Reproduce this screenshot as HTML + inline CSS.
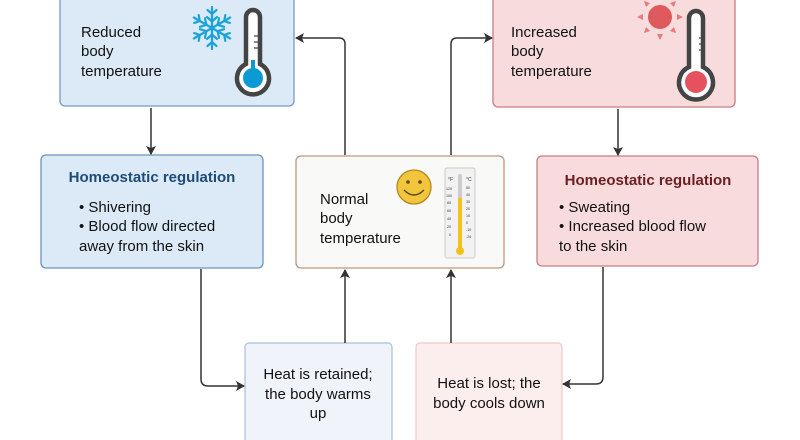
<!DOCTYPE html>
<html><head><meta charset="utf-8"><style>
body{margin:0;width:800px;height:440px;overflow:hidden;background:#fff;font-family:"Liberation Sans",sans-serif;}
svg{position:absolute;left:0;top:0}
text{font-family:"Liberation Sans",sans-serif;font-size:15px;fill:#111}
text.s{font-size:3.6px;fill:#333}
text.u{font-size:5px;fill:#333}
</style></head><body>
<svg width="800" height="440" viewBox="0 0 800 440">
<defs><marker id="a" markerWidth="10" markerHeight="10" refX="8" refY="5" orient="auto" markerUnits="userSpaceOnUse"><path d="M0,0 L9,5 L0,10 L2,5Z" fill="#333"/></marker></defs>
<rect x="60" y="-8" width="234" height="114" rx="5" fill="#dceaf8" stroke="#7499c3" stroke-width="1.3"/>
<rect x="493" y="-8" width="242" height="115" rx="5" fill="#f8dcdd" stroke="#c87c82" stroke-width="1.3"/>
<rect x="41" y="155" width="222" height="113" rx="5" fill="#dceaf8" stroke="#6b93c0" stroke-width="1.3"/>
<rect x="296" y="156" width="208" height="112" rx="5" fill="#f9f9f7" stroke="#c2957c" stroke-width="1.3"/>
<rect x="537" y="156" width="221" height="110" rx="5" fill="#f8dcdd" stroke="#c87c82" stroke-width="1.3"/>
<rect x="245" y="343" width="147" height="110" rx="4" fill="#f0f4fa" stroke="#a9bfdc" stroke-width="1.2"/>
<rect x="416" y="343" width="146" height="110" rx="4" fill="#fdeeee" stroke="#f0c8cc" stroke-width="1.2"/>
<g fill="none" stroke="#333" stroke-width="1.5">
<path d="M151 108 V154" marker-end="url(#a)"/>
<path d="M618 109 V155" marker-end="url(#a)"/>
<path d="M345 155 V44 Q345 38 339 38 H296" marker-end="url(#a)"/>
<path d="M451 155 V44 Q451 38 457 38 H492" marker-end="url(#a)"/>
<path d="M201 269 V379 Q201 386 208 386 H244" marker-end="url(#a)"/>
<path d="M603 267 V377 Q603 384 596 384 H563" marker-end="url(#a)"/>
<path d="M345 343 V270" marker-end="url(#a)"/>
<path d="M451 343 V270" marker-end="url(#a)"/>
</g>
<text x="81" y="37">Reduced</text><text x="81" y="56">body</text><text x="81" y="76">temperature</text>
<text x="511" y="37">Increased</text><text x="511" y="56">body</text><text x="511" y="76">temperature</text>
<text x="152" y="182" text-anchor="middle" style="fill:#1d4c78;font-weight:bold">Homeostatic regulation</text>
<text x="79" y="212">• Shivering</text><text x="79" y="231">• Blood flow  directed</text><text x="79" y="251">away from the skin</text>
<text x="648" y="185" text-anchor="middle" style="fill:#6b1f22;font-weight:bold">Homeostatic regulation</text>
<text x="559" y="212">• Sweating</text><text x="559" y="231">• Increased blood flow</text><text x="559" y="251">to the skin</text>
<text x="320" y="204">Normal</text><text x="320" y="223">body</text><text x="320" y="243">temperature</text>
<text x="318" y="379" text-anchor="middle">Heat is retained;</text><text x="318" y="399" text-anchor="middle">the body warms</text><text x="318" y="418" text-anchor="middle">up</text>
<text x="489" y="388" text-anchor="middle">Heat is lost; the</text><text x="489" y="408" text-anchor="middle">body cools down</text>
<g stroke="#1aa3d9" stroke-width="2.2" fill="none" stroke-linecap="round" transform="translate(212,28)">
<g id="arm"><path d="M0 0 V-21 M-4.5 -18 L0 -14 L4.5 -18 M-5 -11 L0 -6.5 L5 -11"/></g>
<use href="#arm" transform="rotate(60)"/><use href="#arm" transform="rotate(120)"/><use href="#arm" transform="rotate(180)"/><use href="#arm" transform="rotate(240)"/><use href="#arm" transform="rotate(300)"/>
</g>
<path d="M246 64 V17 a7 7 0 0 1 14 0 V64 a16 16 0 1 1 -14 0Z" fill="#fff" stroke="#444" stroke-width="4.5"/>
<circle cx="253" cy="78" r="10" fill="#0b9ad4"/><rect x="251" y="60" width="4" height="16" fill="#0b9ad4"/>
<path d="M254 36h5M254 42h5M254 48h5" stroke="#444" stroke-width="1.2"/>
<g fill="#e9797a"><circle cx="660" cy="17" r="12" fill="#de5a5c"/>
<path d="M660 -6l3 6h-6z"/><path d="M660 40l3 -6h-6z"/><path d="M637 17l6 3v-6z"/><path d="M683 17l-6 3v-6z"/>
<path d="M644 1l6 2-4 4z"/><path d="M676 1l-6 2 4 4z"/><path d="M644 33l6-2-4-4z"/><path d="M676 33l-6-2 4-4z"/></g>
<path d="M689 67 V18 a7 7 0 0 1 14 0 V67 a17 17 0 1 1 -14 0Z" fill="#fff" stroke="#444" stroke-width="4.5"/>
<circle cx="696" cy="82" r="11" fill="#e5515f"/>
<path d="M699 38h4M699 44h4M699 50h4" stroke="#444" stroke-width="1.2"/>
<circle cx="414" cy="187" r="17" fill="#f2c53b" stroke="#b0891e" stroke-width="1.3"/>
<circle cx="408" cy="182" r="1.8" fill="#5a4a20"/><circle cx="420" cy="182" r="1.8" fill="#5a4a20"/>
<path d="M404 190 Q414 200 424 190" stroke="#5a4a20" stroke-width="1.4" fill="none"/>
<rect x="445" y="168" width="30" height="90" rx="2" fill="#f2f2f2" stroke="#ccc"/>
<rect x="458" y="174" width="4" height="76" rx="2" fill="#ccc"/>
<rect x="458" y="198" width="4" height="52" fill="#f2c21b"/><circle cx="460" cy="251" r="4" fill="#f2c21b"/>
<text class="u" x="448" y="181">°F</text><text class="u" x="466" y="181">°C</text>
<text class="s" x="446" y="190">120</text><text class="s" x="446" y="197">100</text><text class="s" x="447" y="204">80</text><text class="s" x="447" y="212">60</text><text class="s" x="447" y="220">40</text><text class="s" x="447" y="228">20</text><text class="s" x="449" y="236">0</text>
<text class="s" x="466" y="189">50</text><text class="s" x="466" y="196">40</text><text class="s" x="466" y="203">30</text><text class="s" x="466" y="210">20</text><text class="s" x="466" y="217">10</text><text class="s" x="466" y="224">0</text><text class="s" x="466" y="231">-10</text><text class="s" x="466" y="238">-20</text>
</svg>
</body></html>
